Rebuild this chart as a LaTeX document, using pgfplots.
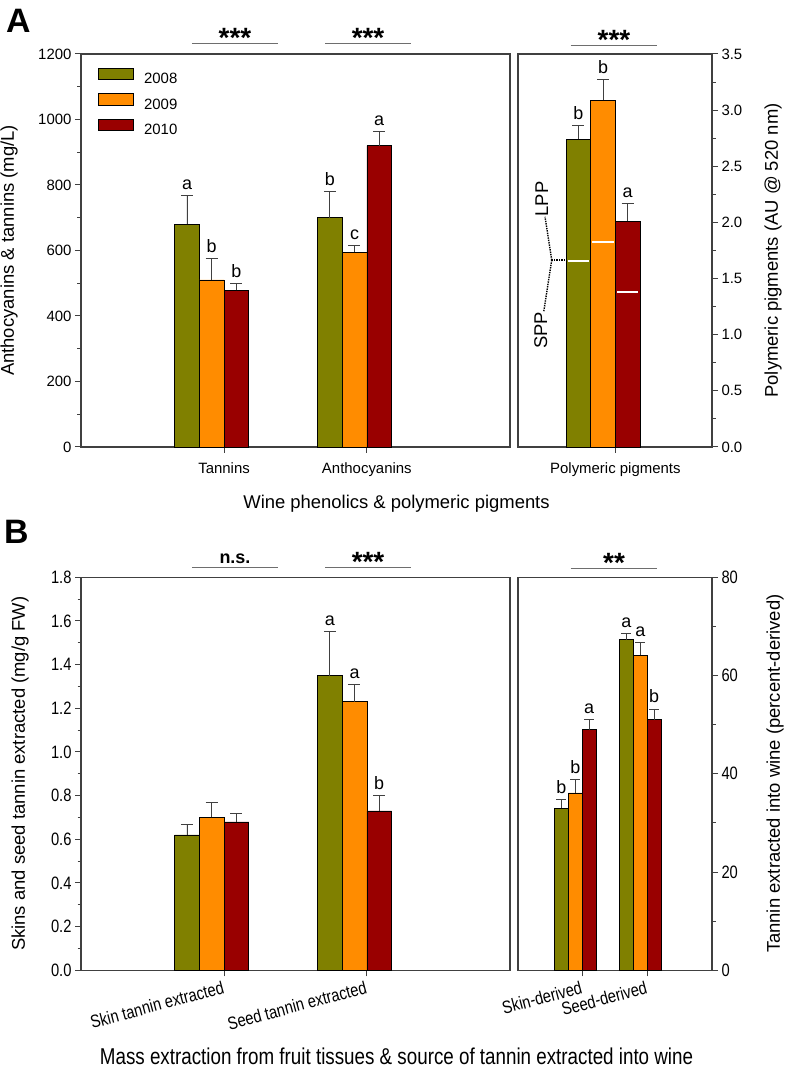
\documentclass[border=0pt]{standalone}
\usepackage{fontspec}
\setmainfont{Liberation Sans}
\newfontfamily\narrowfont[FakeStretch=0.82]{Liberation Sans}
\usepackage{pgfplots}
\pgfplotsset{compat=1.18}
\definecolor{c08}{RGB}{128,128,0}
\definecolor{c09}{RGB}{255,140,0}
\definecolor{c10}{RGB}{153,0,0}
\definecolor{axg}{RGB}{64,64,64}
\definecolor{sigg}{RGB}{110,110,110}
\newcommand{\tickf}{\fontsize{15}{18}\selectfont}
\newcommand{\labf}{\fontsize{18.5}{22}\selectfont}
\newcommand{\letf}{\fontsize{18}{21}\selectfont}
\newcommand{\ntickf}{\narrowfont\fontsize{18}{21}\selectfont}
\newcommand{\nlabf}{\narrowfont\fontsize{23}{27}\selectfont}
\newcommand{\starf}{\fontsize{28}{32}\selectfont\bfseries}
\tikzset{sig/.style={sigg, line width=1bp}, stars/.style={font=\starf, anchor=base, yshift=-4bp}}
\pgfplotsset{
 panel/.style={scale only axis, height=393bp, ymin=0, clip=false,
   axis line style={axg, line width=1.2bp},
   tick style={axg, line width=1bp},
   tick align=outside, major tick length=6bp, minor tick length=3.5bp,
   /pgf/number format/assume math mode=true,
   xtick pos=left, minor y tick num=1},
 eb/.style={error bars/y dir=plus, error bars/y explicit,
   error bars/error bar style={axg, line width=0.9bp},
   error bars/error mark options={axg, line width=0.9bp, mark size=#1, rotate=90}},
 bars/.style n args={2}{ybar, bar width=#1, bar shift=0pt, fill=#2, draw=black, line width=0.6bp,
   legend image code/.code={\draw[##1] (0bp,-0.3bp) rectangle (35bp,11.1bp);}},
 lets/.style={draw=none, mark=none, forget plot, nodes near coords, point meta=explicit symbolic,
   every node near coord/.style={font=\letf, anchor=base, yshift=6bp, inner sep=0pt, black}},
}
\begin{document}
\begin{tikzpicture}
\useasboundingbox (0,0) rectangle (786bp,1072bp);
% ---------------- Panel A, left ----------------
\begin{axis}[panel, at={(81bp,625bp)}, anchor=south west, width=429bp,
  xmin=0.0847, xmax=3.089, ymax=1200,
  ytick={0,200,400,600,800,1000,1200}, ytick pos=left,
  yticklabel style={font=\tickf, /pgf/number format/1000 sep={}},
  xtick={1.0865,2.0865}, xticklabels={Tannins,Anthocyanins},
  xticklabel style={font=\tickf, yshift=-6bp},
  legend style={draw=none, fill=none, at={(0.0403,0.966)}, anchor=north west,
    inner sep=0pt, row sep=8.3bp, font=\tickf, nodes={inner sep=0pt},
    /tikz/every odd column/.style={column sep=10bp}, cells={anchor=west}}]
% 2008 (left bar of each group)
\addplot[bars={0.173}{c08}, eb=6bp] coordinates {(0.827,680) +- (0,89) (1.827,700) +- (0,81)};
\addlegendentry{2008}
% 2009 (middle bar)
\addplot[bars={0.173}{c09}, eb=6bp] coordinates {(1,510) +- (0,65) (2,595) +- (0,21)};
\addlegendentry{2009}
% 2010 (right bar)
\addplot[bars={0.173}{c10}, eb=6bp] coordinates {(1.173,478) +- (0,22) (2.173,920) +- (0,42)};
\addlegendentry{2010}
\addplot[lets] coordinates {(0.827,769)[a] (1,575)[b] (1.173,500)[b] (1.827,781)[b] (2,616)[c] (2.173,962)[a]};
\draw[sig] (axis cs:0.862,1230.5) -- (axis cs:1.464,1230.5);
\node[stars] at (axis cs:1.163,1230.5) {***};
\draw[sig] (axis cs:1.794,1230.5) -- (axis cs:2.396,1230.5);
\node[stars] at (axis cs:2.095,1230.5) {***};
\end{axis}
% ---------------- Panel A, right ----------------
\begin{axis}[panel, at={(518bp,625bp)}, anchor=south west, width=194bp,
  xmin=0.4048, xmax=1.7633, ymax=3.5,
  ytick={0,0.5,1,1.5,2,2.5,3,3.5}, ytick pos=right, yticklabel pos=right,
  yticklabel style={font=\tickf, /pgf/number format/.cd, fixed, fixed zerofill, precision=1},
  xtick={1.0865}, xticklabels={Polymeric pigments},
  xticklabel style={font=\tickf, yshift=-6bp}]
\addplot[bars={0.173}{c08}, eb=6bp] coordinates {(0.827,2.74) +- (0,0.12)};
\addplot[bars={0.173}{c09}, eb=6bp] coordinates {(1,3.09) +- (0,0.18)};
\addplot[bars={0.173}{c10}, eb=6bp] coordinates {(1.173,2.01) +- (0,0.16)};
% SPP/LPP division (SPP part below the white line)
\addplot[white, line width=2bp, forget plot] coordinates {(0.753,1.66) (0.901,1.66)};
\addplot[white, line width=2bp, forget plot] coordinates {(0.926,1.83) (1.074,1.83)};
\addplot[white, line width=2bp, forget plot] coordinates {(1.099,1.38) (1.247,1.38)};
\addplot[lets] coordinates {(0.827,2.86)[b] (1,3.27)[b] (1.173,2.17)[a]};
\draw[black, densely dotted, line width=1.4bp] (axis cs:0.734,1.665) -- (axis cs:0.641,1.665);
\draw[black, densely dotted, line width=1.4bp] (axis cs:0.641,1.665) -- (axis cs:0.585,1.205);
\draw[black, densely dotted, line width=1.4bp] (axis cs:0.641,1.665) -- (axis cs:0.594,2.05);
\node[rotate=90, font=\labf] at (axis cs:0.564,1.04) {SPP};
\node[rotate=90, font=\labf] at (axis cs:0.571,2.21) {LPP};
\draw[sig] (axis cs:0.774,3.58) -- (axis cs:1.380,3.58);
\node[stars] at (axis cs:1.077,3.58) {***};
\end{axis}
% ---------------- Panel B, left ----------------
\begin{axis}[panel, at={(81bp,101.7bp)}, anchor=south west, width=429bp,
  xmin=0.0847, xmax=3.089, ymax=1.8,
  ytick={0,0.2,0.4,0.6,0.8,1,1.2,1.4,1.6,1.8}, ytick pos=left,
  yticklabel style={font=\ntickf, /pgf/number format/.cd, fixed, fixed zerofill, precision=1},
  xtick={1.0865,2.0865}, xticklabels={Skin tannin extracted,Seed tannin extracted},
  xticklabel style={font=\ntickf, rotate=15, anchor=north east}]
\addplot[bars={0.173}{c08}, eb=6bp] coordinates {(0.827,0.62) +- (0,0.05) (1.827,1.35) +- (0,0.20)};
\addplot[bars={0.173}{c09}, eb=6bp] coordinates {(1,0.70) +- (0,0.07) (2,1.23) +- (0,0.08)};
\addplot[bars={0.173}{c10}, eb=6bp] coordinates {(1.173,0.68) +- (0,0.04) (2.173,0.73) +- (0,0.07)};
\addplot[lets] coordinates {(1.827,1.55)[a] (2,1.31)[a] (2.173,0.80)[b]};
\draw[sig] (axis cs:0.862,1.844) -- (axis cs:1.464,1.844);
\node[font=\fontsize{18}{21}\selectfont\bfseries, anchor=base, yshift=4.4bp] at (axis cs:1.163,1.844) {n.s.};
\draw[sig] (axis cs:1.794,1.844) -- (axis cs:2.396,1.844);
\node[stars] at (axis cs:2.095,1.844) {***};
\end{axis}
% ---------------- Panel B, right ----------------
\begin{axis}[panel, at={(518bp,101.7bp)}, anchor=south west, width=194bp,
  xmin=0.1185, xmax=3.103, ymax=80,
  ytick={0,20,40,60,80}, ytick pos=right, yticklabel pos=right,
  yticklabel style={font=\ntickf},
  xtick={1.107,2.107}, xticklabels={Skin-derived,Seed-derived},
  xticklabel style={font=\ntickf, rotate=15, anchor=north east}]
\addplot[bars={0.214}{c08}, eb=5bp] coordinates {(0.786,33.0) +- (0,1.7) (1.786,67.3) +- (0,1.3)};
\addplot[bars={0.214}{c09}, eb=5bp] coordinates {(1,36.1) +- (0,2.7) (2,64.1) +- (0,2.6)};
\addplot[bars={0.214}{c10}, eb=5bp] coordinates {(1.214,49.0) +- (0,2.1) (2.214,51.0) +- (0,2.2)};
\addplot[lets] coordinates {(0.786,34.7)[b] (1,38.8)[b] (1.214,51.1)[a] (1.786,68.6)[a] (2,66.7)[a] (2.214,53.2)[b]};
\draw[sig] (axis cs:0.929,81.83) -- (axis cs:2.262,81.83);
\node[stars] at (axis cs:1.596,81.83) {**};
\end{axis}
% ---------------- labels ----------------
\node[anchor=base west, inner sep=0pt, font=\fontsize{34}{40}\selectfont\bfseries] at (6bp,1039.3bp) {A};
\node[anchor=base west, inner sep=0pt, font=\fontsize{34}{40}\selectfont\bfseries] at (4bp,528.7bp) {B};
\node[rotate=90, font=\labf] at (9bp,821.5bp) {Anthocyanins \& tannins (mg/L)};
\node[rotate=90, font=\labf] at (773bp,821.5bp) {Polymeric pigments (AU @ 520 nm)};
\node[anchor=base, font=\labf] at (396.5bp,563.5bp) {Wine phenolics \& polymeric pigments};
\node[rotate=90, font=\labf] at (20bp,298.3bp) {Skins and seed tannin extracted (mg/g FW)};
\node[rotate=90, font=\labf] at (775bp,298.3bp) {Tannin extracted into wine (percent-derived)};
\node[anchor=base, font=\nlabf] at (396.5bp,8bp) {Mass extraction from fruit tissues \& source of tannin extracted into wine};
\end{tikzpicture}
\end{document}
